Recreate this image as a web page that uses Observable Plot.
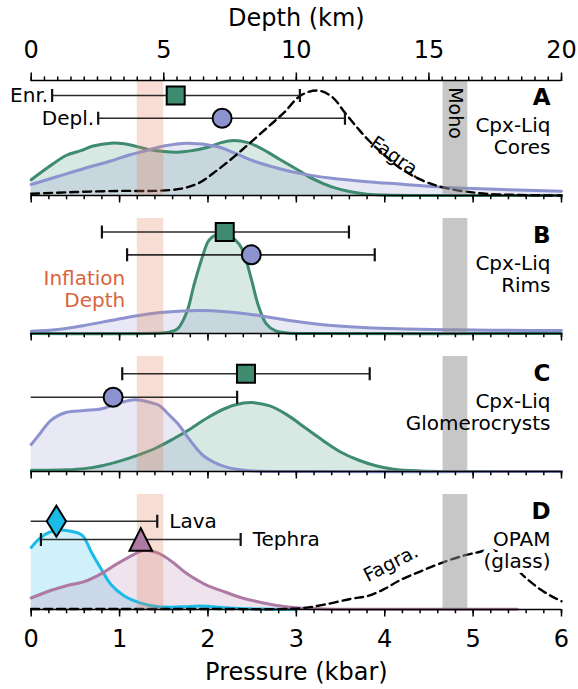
<!DOCTYPE html>
<html>
<head>
<meta charset="utf-8">
<script src="https://cdn.jsdelivr.net/npm/d3@7"></script>
<script src="https://cdn.jsdelivr.net/npm/@observablehq/plot@0.6"></script>
<style>
  html, body { margin: 0; padding: 0; background: #fff; }
  #chart svg { display: block; }
</style>
</head>
<body>
<div id="chart"></div>
<script>
// Panels, top to bottom
const panels = ["A", "B", "C", "D"];
const panelTitles = ["Cpx-Liq\nCores", "Cpx-Liq\nRims", "Cpx-Liq\nGlomerocrysts", "OPAM\n(glass)"];

// Colours
const green = "#3e8b6f";
const purple = "#8c93cf";
const cyan = "#1bbbe8";
const mauve = "#ae7aa4";

// Density curves: [pressure (kbar), density scaled to panel height]
const coresEnriched = [[0,0.137],[0.2,0.25],[0.4,0.35],[0.56,0.39],[0.7,0.43],[0.9,0.455],[1.05,0.45],[1.2,0.425],[1.35,0.397],[1.5,0.382],[1.65,0.377],[1.8,0.388],[2.0,0.42],[2.15,0.46],[2.29,0.478],[2.45,0.46],[2.6,0.41],[2.8,0.32],[3.0,0.23],[3.2,0.14],[3.4,0.075],[3.6,0.035],[3.8,0.012],[4.0,0.004],[4.5,0],[6,0]];
const coresDepleted = [[0,0.096],[0.3,0.165],[0.6,0.235],[0.9,0.30],[1.1,0.35],[1.3,0.39],[1.5,0.43],[1.76,0.455],[2.1,0.426],[2.3,0.37],[2.48,0.31],[2.8,0.235],[3.05,0.19],[3.4,0.15],[3.8,0.12],[4.2,0.098],[4.6,0.075],[5.0,0.06],[5.5,0.048],[6.0,0.037]];
const rimsEnriched = [[0,0],[1.4,0.002],[1.56,0.012],[1.655,0.04],[1.76,0.185],[1.84,0.417],[1.93,0.65],[2.01,0.81],[2.09,0.858],[2.2,0.868],[2.3,0.82],[2.385,0.737],[2.49,0.475],[2.57,0.243],[2.66,0.084],[2.76,0.025],[2.9,0.005],[3.1,0],[6,0]];
const rimsDepleted = [[0,0.02],[0.3,0.035],[0.6,0.07],[0.9,0.113],[1.2,0.155],[1.5,0.185],[1.9,0.20],[2.2,0.19],[2.57,0.157],[2.9,0.115],[3.2,0.085],[3.4,0.07],[3.8,0.05],[4.24,0.04],[4.8,0.032],[5.4,0.028],[6.0,0.026]];
const glomEnriched = [[0,0.01],[0.4,0.015],[0.6,0.025],[0.8,0.05],[1.0,0.09],[1.2,0.14],[1.4,0.20],[1.6,0.28],[1.8,0.37],[2.0,0.47],[2.2,0.55],[2.4,0.595],[2.5,0.60],[2.7,0.57],[2.9,0.49],[3.1,0.38],[3.3,0.27],[3.5,0.17],[3.7,0.10],[3.9,0.05],[4.1,0.02],[4.4,0.005],[4.8,0],[6,0]];
const glomDepleted = [[0,0.235],[0.1,0.33],[0.22,0.443],[0.4,0.515],[0.6,0.53],[0.8,0.545],[0.93,0.58],[1.12,0.62],[1.24,0.62],[1.35,0.60],[1.45,0.574],[1.55,0.50],[1.66,0.415],[1.76,0.31],[1.86,0.21],[1.96,0.13],[2.07,0.08],[2.2,0.04],[2.32,0.02],[2.5,0.005],[3,0],[6,0]];
const lavaGlass = [[0,0.54],[0.1,0.62],[0.2,0.67],[0.3,0.69],[0.37,0.69],[0.45,0.68],[0.58,0.643],[0.68,0.50],[0.79,0.354],[0.9,0.22],[1.05,0.12],[1.24,0.055],[1.4,0.028],[1.6,0.02],[1.75,0.025],[1.9,0.03],[2.05,0.025],[2.3,0.01],[2.6,0.004],[3.0,0]];
const tephraGlass = [[0,0.10],[0.22,0.165],[0.41,0.209],[0.6,0.243],[0.79,0.31],[0.97,0.397],[1.16,0.478],[1.28,0.515],[1.4,0.50],[1.49,0.47],[1.62,0.40],[1.74,0.324],[1.87,0.26],[1.99,0.209],[2.2,0.15],[2.36,0.107],[2.55,0.07],[2.78,0.035],[3.03,0.012],[3.3,0.005],[4,0.003],[5.5,0.002]];

// Fagradalsfjall reference curves (dashed)
const fagraCpx = [[0,0.015],[0.5,0.03],[1.0,0.04],[1.4,0.04],[1.7,0.06],[1.9,0.11],[2.1,0.217],[2.3,0.34],[2.48,0.46],[2.7,0.61],[2.86,0.72],[3.05,0.87],[3.24,0.913],[3.4,0.86],[3.55,0.72],[3.7,0.58],[3.82,0.478],[4.0,0.35],[4.16,0.246],[4.4,0.14],[4.66,0.07],[5.07,0.02],[5.5,0.005],[6,0]];
const fagraGlass = [[0,0.005],[1,0.005],[2,0.005],[3.03,0.01],[3.3,0.04],[3.62,0.093],[3.82,0.12],[4.0,0.18],[4.16,0.25],[4.4,0.33],[4.66,0.41],[4.9,0.47],[5.07,0.50],[5.2,0.52],[5.35,0.48],[5.45,0.41],[5.53,0.324],[5.65,0.24],[5.78,0.165],[5.9,0.11],[6.0,0.072]];

// Error bars: median and range per group
const barPanel = ["A", "A", "B", "B", "C", "C", "D", "D"];
const barGroup = ["enr", "depl", "enr", "depl", "enr", "depl", "lava", "tephra"];
const barLabel = ["Enr.", "Depl.", "", "", "", "", "Lava", "Tephra"];
const barLow  = [0.237, 0.758, 0.80, 1.085, 1.03, -0.45, -0.6, 0.11];
const barMid  = [1.635, 2.16, 2.19, 2.49, 2.43, 0.927, 0.285, 1.24];
const barHigh = [3.04, 3.55, 3.595, 3.887, 3.83, 2.33, 1.426, 2.37];
const barRow  = [0.87, 0.672, 0.882, 0.684, 0.85, 0.646, 0.768, 0.609];

// Shaded pressure ranges
const bandName = ["Inflation", "Moho"];
const bandLow = [1.2, 4.66];
const bandHigh = [1.5, 4.94];

// Axis ticks
const pressureMajor = d3.range(0, 6.001, 1);
const pressureMinor = d3.range(0, 6.001, 0.2);
const kmPerKbar = 10 / 3;
const depthMajor = d3.range(0, 20.001, 5);
const depthMinor = d3.range(0, 20.001, 0.5);

// ---- tables built from the arrays above ----
const curveSeries = [
  {panel: "A", pts: coresEnriched, color: green},
  {panel: "A", pts: coresDepleted, color: purple},
  {panel: "B", pts: rimsEnriched, color: green},
  {panel: "B", pts: rimsDepleted, color: purple},
  {panel: "C", pts: glomEnriched, color: green},
  {panel: "C", pts: glomDepleted, color: purple},
  {panel: "D", pts: lavaGlass, color: cyan},
  {panel: "D", pts: tephraGlass, color: mauve}
];
const curveRows = curveSeries.flatMap((s, i) =>
  s.pts.map(([p, d]) => ({panel: s.panel, key: i, color: s.color, p, d})));
const fagraRows = [
  ...fagraCpx.map(([p, d]) => ({panel: "A", p, d})),
  ...fagraGlass.map(([p, d]) => ({panel: "D", p, d}))
];
const bars = barPanel.map((panel, i) => ({
  panel, group: barGroup[i], label: barLabel[i],
  lo: barLow[i], mid: barMid[i], hi: barHigh[i], row: barRow[i]
}));
const caps = bars.flatMap(b => [{panel: b.panel, p: b.lo, row: b.row}, {panel: b.panel, p: b.hi, row: b.row}]);
const bands = bandName.map((name, i) => ({name, lo: bandLow[i], hi: bandHigh[i]}));
const titles = panels.map((panel, i) => ({panel, letter: panel, title: panelTitles[i]}));

// Marker shapes (drawn in px around the point)
const radius = size => Math.sqrt(size / Math.PI);
const capSymbol = {draw(ctx, size) { const r = radius(size); ctx.moveTo(0, -r); ctx.lineTo(0, r); }};
const squareSymbol = {draw(ctx, size) { const r = radius(size); ctx.rect(-r, -r, 2 * r, 2 * r); }};
const thinDiamond = {draw(ctx, size) { const r = radius(size); ctx.moveTo(0, -r); ctx.lineTo(0.62 * r, 0); ctx.lineTo(0, r); ctx.lineTo(-0.62 * r, 0); ctx.closePath(); }};
const triangleUp = {draw(ctx, size) { const r = radius(size); ctx.moveTo(0, -r); ctx.lineTo(r, r); ctx.lineTo(-r, r); ctx.closePath(); }};
const markerStyle = {
  enr:    {symbol: squareSymbol, r: 9, fill: green},
  depl:   {symbol: "circle", r: 9.5, fill: purple},
  lava:   {symbol: thinDiamond, r: 15.5, fill: cyan},
  tephra: {symbol: triangleUp, r: 11.3, fill: mauve}
};

const font = "DejaVu Sans";
const byPanel = p => d => d.panel === p;

const marks = [];

// filled densities (unstacked), then their outlines
marks.push(Plot.areaY(curveRows, {x: "p", y1: 0, y2: "d", z: "key", fy: "panel", fill: "color", fillOpacity: 0.2, curve: "catmull-rom"}));
marks.push(Plot.lineY(curveRows, {x: "p", y: "d", z: "key", fy: "panel", stroke: "color", strokeWidth: 3, curve: "catmull-rom"}));
marks.push(Plot.lineY(fagraRows, {x: "p", y: "d", z: "panel", fy: "panel", stroke: "black", strokeWidth: 2.4, strokeDasharray: "8,5", curve: "catmull-rom"}));

// shaded inflation depth and Moho in every panel
marks.push(Plot.rect(bands, {x1: "lo", x2: "hi", fill: d => d.name === "Moho" ? "#8f8f8f" : "#e0805f", fillOpacity: d => d.name === "Moho" ? 0.5 : 0.27}));

// spines and ticks
marks.push(Plot.ruleY([0], {stroke: "black", strokeWidth: 1.5}));
marks.push(Plot.ruleY(titles.filter(byPanel("A")), {y: () => 1, fy: "panel", stroke: "black", strokeWidth: 1.5}));
marks.push(Plot.axisX({anchor: "bottom", ticks: pressureMajor, tickSize: 7.5, strokeWidth: 1.5, tickFormat: () => "", facetAnchor: null, label: null}));
marks.push(Plot.axisX({anchor: "bottom", ticks: pressureMinor, tickSize: 4.3, strokeWidth: 1.5, tickFormat: () => "", facetAnchor: null, label: null}));
marks.push(Plot.axisX({anchor: "bottom", ticks: pressureMajor, tickSize: 0, tickPadding: 20, fontSize: 24, fontFamily: font, tickFormat: d => d, label: null}));
marks.push(Plot.axisX({anchor: "top", ticks: depthMajor.map(k => k / kmPerKbar), tickSize: 8.5, tickPadding: 14, strokeWidth: 1.5, fontSize: 24, fontFamily: font, tickFormat: d => Math.round(d * kmPerKbar), label: null}));
marks.push(Plot.axisX({anchor: "top", ticks: depthMinor.map(k => k / kmPerKbar), tickSize: 4.5, strokeWidth: 1.5, tickFormat: () => "", label: null}));

// axis titles
marks.push(Plot.text(titles.filter(byPanel("A")), {fy: "panel", frameAnchor: "top", dy: -62, lineAnchor: "middle", text: () => "Depth (km)", fontSize: 24, fontFamily: font, fill: "black"}));
marks.push(Plot.text(titles.filter(byPanel("D")), {fy: "panel", frameAnchor: "bottom", dy: 63, lineAnchor: "middle", text: () => "Pressure (kbar)", fontSize: 24, fontFamily: font, fill: "black"}));

// error bars with caps, clipped to the panel
marks.push(Plot.ruleY(bars, {x1: "lo", x2: "hi", y: "row", fy: "panel", stroke: "#2b2b2b", strokeWidth: 1.6, clip: true}));
marks.push(Plot.dot(caps, {x: "p", y: "row", fy: "panel", symbol: capSymbol, r: 6.5, fill: "none", stroke: "#111", strokeWidth: 2.2, clip: true}));
for (const [group, style] of Object.entries(markerStyle)) {
  marks.push(Plot.dot(bars.filter(b => b.group === group), {x: "mid", y: "row", fy: "panel", symbol: style.symbol, r: style.r, fill: style.fill, stroke: "black", strokeWidth: 2}));
}
// group labels beside the bars
marks.push(Plot.text(bars.filter(b => b.label && b.panel === "A"), {x: "lo", y: "row", fy: "panel", text: "label", dx: -4, textAnchor: "end", fontSize: 20, fontFamily: font, fill: "black"}));
marks.push(Plot.text(bars.filter(b => b.label && b.panel === "D"), {x: "hi", y: "row", fy: "panel", text: "label", dx: 12, textAnchor: "start", fontSize: 20, fontFamily: font, fill: "black"}));

// band and curve annotations
marks.push(Plot.text(bands.filter(b => b.name === "Moho"), {x: d => (d.lo + d.hi) / 2, y: () => 0.717, fy: () => "A", text: () => "Moho", rotate: 90, fontSize: 19, fontFamily: font, fill: "black"}));
marks.push(Plot.text(bands.filter(b => b.name === "Inflation"), {x: "lo", y: () => 0.39, fy: () => "B", dx: -12, text: () => "Inflation\nDepth", textAnchor: "end", lineAnchor: "middle", lineHeight: 1.12, fontSize: 20, fontFamily: font, fill: "#d9633d"}));
marks.push(Plot.text(fagraRows.filter(d => d.panel === "A" && d.p === 4.16), {x: () => 4.13, y: () => 0.33, fy: "panel", text: () => "Fagra.", rotate: 35, fontSize: 19, fontFamily: font, fill: "black"}));
marks.push(Plot.text(fagraRows.filter(d => d.panel === "D" && d.p === 4.16), {x: () => 4.07, y: () => 0.40, fy: "panel", text: () => "Fagra.", rotate: -27, fontSize: 19, fontFamily: font, fill: "black"}));

// panel letters and titles
marks.push(Plot.text(titles, {fy: "panel", frameAnchor: "top-right", dx: -11, dy: 8.5, lineAnchor: "top", text: "letter", fontWeight: "bold", fontSize: 23, fontFamily: font, fill: "black"}));
marks.push(Plot.text(titles, {fy: "panel", frameAnchor: "top-right", dx: -11, dy: 35.5, lineAnchor: "top", lineHeight: 1.125, text: "title", fontSize: 20, fontFamily: font, fill: "black", stroke: d => d.panel === "D" ? "white" : "none", strokeWidth: 10, strokeLinejoin: "round"}));

const chart = Plot.plot({
  width: 578,
  height: 689,
  marginTop: 80,
  marginBottom: 80,
  marginLeft: 30.7,
  marginRight: 17,
  style: {fontFamily: font, background: "white", color: "black"},
  x: {domain: [0, 6]},
  y: {domain: [0, 1], axis: null},
  fy: {domain: panels, axis: null, paddingInner: 23 / 138, paddingOuter: 0},
  color: {type: "identity"},
  marks
});
document.getElementById("chart").append(chart);
</script>
</body>
</html>
